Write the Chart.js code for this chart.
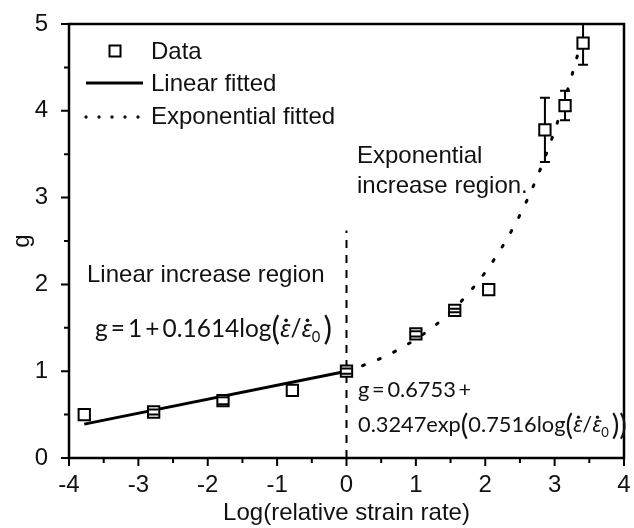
<!DOCTYPE html>
<html>
<head>
<meta charset="utf-8">
<script src="https://cdn.jsdelivr.net/npm/chart.js@4.4.1/dist/chart.umd.min.js"></script>
<style>
  html, body { margin: 0; padding: 0; background: #fff; }
  #wrap { width: 634px; height: 528px; }
</style>
</head>
<body>
<div id="wrap"><canvas id="chart" width="634" height="528"></canvas></div>
<script>
// measured points (log of relative strain rate vs g)
var logRate = [-3.78, -2.78, -1.78, -0.78, 0, 1.0, 1.56, 2.05, 2.86, 3.15, 3.41];
var gValue  = [0.50, 0.53, 0.66, 0.78, 1.00, 1.43, 1.70, 1.94, 3.78, 4.06, 4.78];
var gError  = [0, 0.03, 0.04, 0, 0.03, 0.03, 0.02, 0, 0.37, 0.17, 0.25];

// fitted curves
var linearX = [-3.78, 0];
var linearG = [0.39, 1.0];
var expX = [0, 0.25, 0.5, 0.75, 1.0, 1.25, 1.5, 1.75, 2.0, 2.25, 2.5, 2.75, 3.0, 3.25, 3.41];
var expG = [1.00, 1.07, 1.15, 1.25, 1.37, 1.51, 1.68, 1.89, 2.14, 2.44, 2.80, 3.24, 3.77, 4.41, 4.88];

// vertical divider between the two regions
var dividerX = [0, 0];
var dividerG = [0, 2.62];

var xMin = -4, xMax = 4;
var yMin = 0, yMax = 5;

var labelFont = '"Liberation Sans", Arial, sans-serif';
var eqFont = 'Lato, "Open Sans", sans-serif';
var ink = '#111';
var thin = '\u2009';

function toPoints(xs, ys) {
    var pts = [];
    for (var i = 0; i < xs.length; i++) pts.push({ x: xs[i], y: ys[i] });
    return pts;
}

// draws text runs (for the equations), returns the end x
function drawRuns(ctx, runs, x, y, size, dryRun) {
    runs.forEach(function(r) {
        var s = size * (r.scale || 1);
        ctx.font = (r.italic ? 'italic ' : '') + s + 'px ' + (r.family || eqFont);
        var yy = y + (r.dy || 0) * size;
        var w = ctx.measureText(r.t).width;
        if (!dryRun) {
            ctx.fillText(r.t, x, yy);
            if (r.dot) {
                ctx.beginPath();
                ctx.arc(x + w * 0.58, yy - size * 0.68, size * 0.075, 0, 2 * Math.PI);
                ctx.fill();
            }
        }
        x += w;
    });
    return x;
}

function fitRuns(ctx, runs, x, y, width) {
    var natural = drawRuns(ctx, runs, 0, 0, 20, true);
    var size = 20 * width / natural;
    drawRuns(ctx, runs, x, y, size, false);
    return size;
}

function eps() {
    return [{ t: 'ε', italic: true, family: '"Noto Sans", "DejaVu Sans", sans-serif', dot: true }];
}

var ratio = function() {
    return [{ t: '(', scale: 1.3, dy: 0.12 }]
        .concat(eps())
        .concat([{ t: '/' }])
        .concat(eps())
        .concat([{ t: '0', scale: 0.6, dy: 0.22 }, { t: thin }, { t: ')', scale: 1.3, dy: 0.12 }]);
};

var decorations = {
    id: 'decorations',
    afterDatasetsDraw: function(chart) {
        var ctx = chart.ctx;
        var xs = chart.scales.x, ys = chart.scales.y;
        var area = chart.chartArea;
        var half = 5.6;

        // error bars
        ctx.save();
        ctx.beginPath();
        ctx.rect(area.left, area.top, area.right - area.left, area.bottom - area.top);
        ctx.clip();
        ctx.strokeStyle = '#000';
        ctx.lineWidth = 2;
        for (var i = 0; i < logRate.length; i++) {
            if (!gError[i]) continue;
            var px = xs.getPixelForValue(logRate[i]);
            var py = ys.getPixelForValue(gValue[i]);
            var top = ys.getPixelForValue(gValue[i] + gError[i]);
            var bot = ys.getPixelForValue(gValue[i] - gError[i]);
            ctx.beginPath();
            if (top < py - half) { ctx.moveTo(px, py - half); ctx.lineTo(px, top); }
            if (bot > py + half) { ctx.moveTo(px, py + half); ctx.lineTo(px, bot); }
            ctx.moveTo(px - 5, top); ctx.lineTo(px + 5, top);
            ctx.moveTo(px - 5, bot); ctx.lineTo(px + 5, bot);
            ctx.stroke();
        }
        ctx.restore();
    },
    afterDraw: function(chart) {
        var ctx = chart.ctx;
        var xs = chart.scales.x, ys = chart.scales.y;
        var area = chart.chartArea;
        ctx.save();

        // frame
        ctx.strokeStyle = '#000';
        ctx.lineWidth = 2.5;
        ctx.strokeRect(area.left, area.top, area.right - area.left, area.bottom - area.top);

        // ticks, major and minor, outward
        ctx.lineWidth = 2;
        ctx.beginPath();
        for (var v = xMin; v <= xMax; v += 0.5) {
            var px = xs.getPixelForValue(v);
            var len = (v % 1 === 0) ? 8 : 5;
            ctx.moveTo(px, area.bottom);
            ctx.lineTo(px, area.bottom + len);
        }
        for (var w = yMin; w <= yMax; w += 0.5) {
            var py = ys.getPixelForValue(w);
            var len2 = (w % 1 === 0) ? 8 : 5;
            ctx.moveTo(area.left, py);
            ctx.lineTo(area.left - len2, py);
        }
        ctx.stroke();

        // legend
        ctx.fillStyle = ink;
        ctx.font = '24px ' + labelFont;
        ctx.textBaseline = 'alphabetic';
        ctx.textAlign = 'left';
        ctx.lineWidth = 2;
        ctx.strokeStyle = '#000';
        ctx.strokeRect(109.5, 45.5, 11, 11);
        ctx.fillText('Data', 151, 59);
        ctx.lineWidth = 3;
        ctx.beginPath();
        ctx.moveTo(86, 83);
        ctx.lineTo(143, 83);
        ctx.stroke();
        ctx.fillText('Linear fitted', 151, 91);
        for (var d = 0; d < 5; d++) {
            ctx.beginPath();
            ctx.arc(86 + d * 13, 117, 1.7, 0, 2 * Math.PI);
            ctx.fill();
        }
        ctx.fillText('Exponential fitted', 151, 124);

        // region labels
        ctx.fillText('Exponential', 357, 163);
        ctx.fillText('increase region.', 357, 193);
        ctx.fillText('Linear increase region', 87, 282);

        // equations
        var eq1 = [{ t: 'g' + thin + '=' + thin + '1' + thin + '+' + thin + '0.1614log' }].concat(ratio());
        fitRuns(ctx, eq1, 95, 337, 237);
        var eq2b = [{ t: '0.3247exp' }, { t: '(', scale: 1.3, dy: 0.12 }, { t: '0.7516log' }]
            .concat(ratio()).concat([{ t: ')', scale: 1.3, dy: 0.12 }]);
        var size = fitRuns(ctx, eq2b, 358, 432, 269);
        drawRuns(ctx, [{ t: 'g' + thin + '=' + thin + '0.6753' + thin + '+' }], 358, 397, size, false);

        ctx.restore();
    }
};

var chart = new Chart(document.getElementById('chart'), {
    type: 'scatter',
    data: {
        datasets: [{
            label: 'Data',
            data: toPoints(logRate, gValue),
            pointStyle: 'rect',
            pointRadius: 8,
            pointBorderWidth: 2,
            borderColor: '#000',
            backgroundColor: '#fff',
            order: 0
        }, {
            label: 'Linear fitted',
            data: toPoints(linearX, linearG),
            showLine: true,
            pointRadius: 0,
            borderColor: '#000',
            borderWidth: 3,
            order: 1
        }, {
            label: 'Exponential fitted',
            data: toPoints(expX, expG),
            showLine: true,
            pointRadius: 0,
            borderColor: '#000',
            borderWidth: 3,
            borderDash: [2, 15],
            borderCapStyle: 'round',
            cubicInterpolationMode: 'monotone',
            order: 2
        }, {
            label: 'divider',
            data: toPoints(dividerX, dividerG),
            showLine: true,
            pointRadius: 0,
            borderColor: '#000',
            borderWidth: 2,
            borderDash: [8, 7],
            order: 3
        }]
    },
    options: {
        responsive: false,
        animation: false,
        layout: { padding: { top: 24, right: 3, left: 0, bottom: 0 } },
        plugins: {
            legend: { display: false },
            tooltip: { enabled: false }
        },
        scales: {
            x: {
                type: 'linear',
                min: xMin,
                max: xMax,
                grid: { display: false },
                border: { display: false },
                ticks: {
                    stepSize: 1,
                    padding: 5,
                    color: ink,
                    font: { family: labelFont, size: 24 }
                },
                title: {
                    display: true,
                    text: 'Log(relative strain rate)',
                    color: ink,
                    font: { family: labelFont, size: 24 },
                    padding: { top: 0, bottom: 0 }
                },
                afterFit: function(scale) {
                    scale.height = 70;
                    scale.paddingLeft = 0;
                    scale.paddingRight = 0;
                }
            },
            y: {
                type: 'linear',
                min: yMin,
                max: yMax,
                grid: { display: false },
                border: { display: false },
                ticks: {
                    stepSize: 1,
                    padding: 13,
                    color: ink,
                    font: { family: labelFont, size: 24 }
                },
                title: {
                    display: true,
                    text: 'g',
                    color: ink,
                    font: { family: labelFont, size: 24 },
                    padding: { top: 8, bottom: 0 }
                },
                afterFit: function(scale) {
                    scale.width = 69;
                    scale.paddingTop = 0;
                    scale.paddingBottom = 0;
                }
            }
        }
    },
    plugins: [decorations]
});
</script>
</body>
</html>
